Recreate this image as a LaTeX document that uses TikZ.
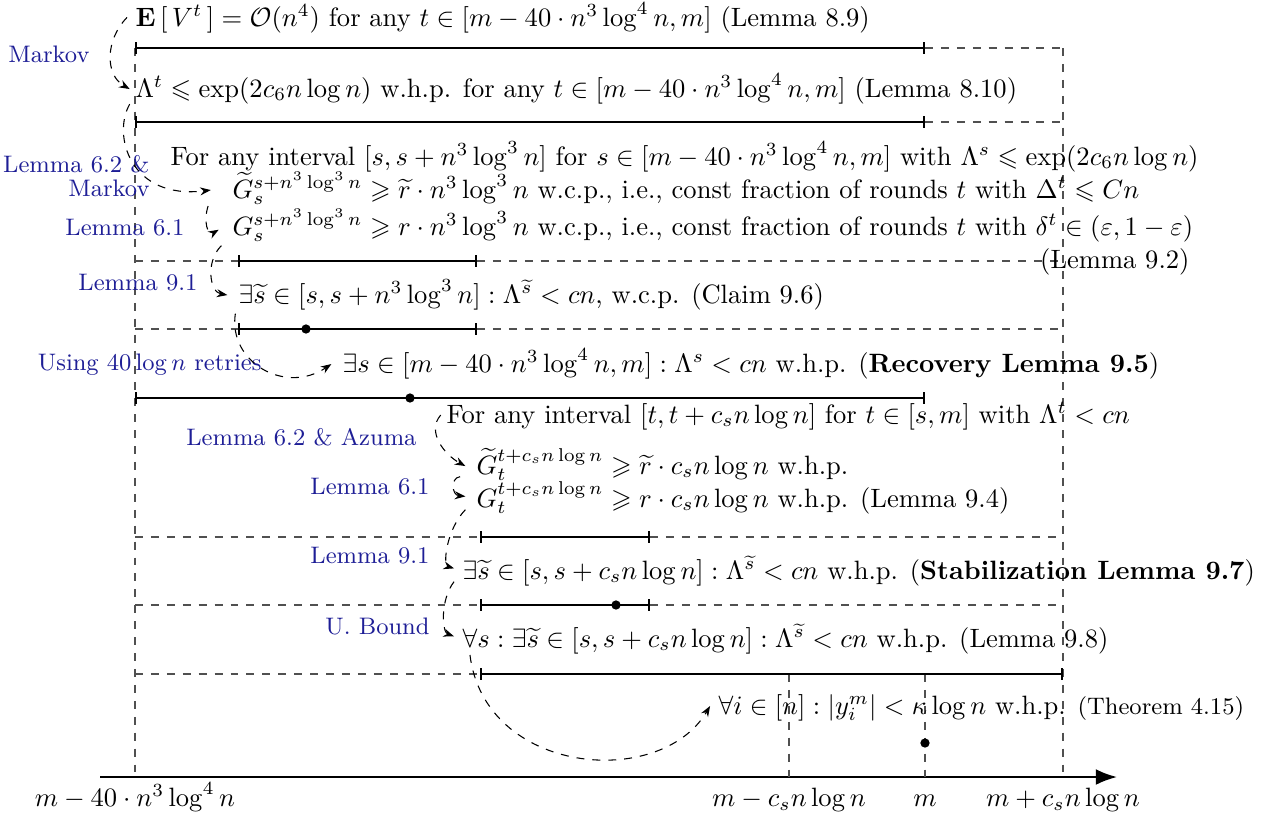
\documentclass[tikz,border=0pt]{standalone}
\usepackage{amsmath,amssymb}
\usepackage{xcolor}
\usepackage{tikz}
\usetikzlibrary{arrows.meta}
\definecolor{note}{RGB}{30,30,150}
\definecolor{guidegray}{RGB}{80,80,80}

\begin{document}
\begin{tikzpicture}[
  x=0.01325cm, y=-0.01325cm,
  fact/.style={anchor=base west, inner sep=0pt},
  why/.style={anchor=base east, inner sep=0pt, text=note, align=right, font=\small},
  ivl/.style={thick, {Bar[width=4.5pt]}-{Bar[width=4.5pt]}},
  guide/.style={dashed, guidegray},
  proof/.style={dashed, -{Stealth[length=4pt]}},
  hit/.style={circle, fill, inner sep=0pt, minimum size=3.5pt},
  axis/.style={thick, -{Latex[length=8pt]}}
]
\useasboundingbox (0,0) rectangle (1261,816);

% time axis and guides
\draw[axis] (100,777) -- (1117,777);
\draw[guide] (135,48) -- (135,777);
\draw[guide] (1063,48) -- (1063,777);
\draw[guide] (789,674) -- (789,777);
\draw[guide] (925,674) -- (925,777);
\draw[guide] (925,48) -- (1063,48);
\draw[guide] (925,122) -- (1063,122);
\draw[guide] (135,261) -- (238,261) (477,261) -- (1063,261);
\draw[guide] (135,329) -- (238,329) (477,329) -- (1063,329);
\draw[guide] (135,537) -- (480,537) (650,537) -- (1063,537);
\draw[guide] (135,605) -- (480,605) (650,605) -- (1063,605);
\draw[guide] (135,674) -- (480,674);

% intervals
\draw[ivl] (135,48) -- (925,48);
\draw[ivl] (135,122) -- (925,122);
\draw[ivl] (238,261) -- (477,261);
\draw[ivl] (238,329) -- (477,329);
\draw[ivl] (135,398) -- (925,398);
\draw[ivl] (480,537) -- (650,537);
\draw[ivl] (480,605) -- (650,605);
\draw[ivl] (480,674) -- (1063,674);
\node[hit] at (306,329) {};
\node[hit] at (410,398) {};
\node[hit] at (616,605) {};
\node[hit] at (925,743) {};

% statements
\node[fact] (e89) at (135,26) {$\mathbf{E}\left[\,V^t\,\right] = \mathcal{O}(n^4)$ for any $t \in [m - 40 \cdot n^3 \log^4 n, m]$ (Lemma 8.9)};
\node[fact] (lam810) at (135,97) {$\Lambda^t \leqslant \exp(2c_6 n \log n)$ w.h.p. for any $t \in [m - 40 \cdot n^3 \log^4 n, m]$ (Lemma 8.10)};
\node[fact] (forS) at (170,165) {For any interval $[s, s + n^3 \log^3 n]$ for $s \in [m - 40 \cdot n^3 \log^4 n, m]$ with $\Lambda^s \leqslant \exp(2c_6 n \log n)$};
\node[fact] (gtil) at (232,198) {$\widetilde{G}_s^{s+n^3 \log^3 n} \geqslant \widetilde{r} \cdot n^3 \log^3 n$ w.c.p., i.e., const fraction of rounds $t$ with $\Delta^t \leqslant Cn$};
\node[fact] (gnorm) at (232,235) {$G_s^{s+n^3 \log^3 n} \geqslant r \cdot n^3 \log^3 n$ w.c.p., i.e., const fraction of rounds $t$ with $\delta^t \in (\varepsilon, 1-\varepsilon)$};
\node[fact, anchor=base east] (l92) at (1190,268) {(Lemma 9.2)};
\node[fact] (claim96) at (238,303) {$\exists \widetilde{s} \in [s, s + n^3 \log^3 n] : \Lambda^{\widetilde{s}} < cn$, w.c.p. (Claim 9.6)};
\node[fact] (rec95) at (342,372) {$\exists s \in [m - 40 \cdot n^3 \log^4 n, m] : \Lambda^s < cn$ w.h.p. (\textbf{Recovery Lemma 9.5})};
\node[fact] (forT) at (446,423) {For any interval $[t, t + c_s n \log n]$ for $t \in [s, m]$ with $\Lambda^t < cn$};
\node[fact] (gtilT) at (476,474) {$\widetilde{G}_t^{t+c_s n \log n} \geqslant \widetilde{r} \cdot c_s n \log n$ w.h.p.};
\node[fact] (gnormT) at (476,507) {$G_t^{t+c_s n \log n} \geqslant r \cdot c_s n \log n$ w.h.p. (Lemma 9.4)};
\node[fact] (stab97) at (462,579) {$\exists \widetilde{s} \in [s, s + c_s n \log n] : \Lambda^{\widetilde{s}} < cn$ w.h.p. (\textbf{Stabilization Lemma 9.7})};
\node[fact] (l98) at (462,647) {$\forall s : \exists \widetilde{s} \in [s, s + c_s n \log n] : \Lambda^{\widetilde{s}} < cn$ w.h.p. (Lemma 9.8)};
\node[fact] (thm415) at (718,714) {$\forall i \in [n] : |y_i^m| < \kappa \log n$ w.h.p. {\small (Theorem 4.15)}};

% axis labels
\node[anchor=base] (tstart) at (135,806) {$m - 40 \cdot n^3 \log^4 n$};
\node[anchor=base] (tlow) at (789,806) {$m - c_s n \log n$};
\node[anchor=base] (tm) at (925,806) {$m$};
\node[anchor=base] (thigh) at (1063,806) {$m + c_s n \log n$};

% reasons
\node[why] (mk1) at (90,62) {Markov};
\node[why, anchor=east] (lem62mk) at (150,176) {Lemma 6.2 \&\\[-2pt]Markov};
\node[why] (lem61a) at (185,235) {Lemma 6.1};
\node[why] (lem91a) at (198,290) {Lemma 9.1};
\node[why] (retries) at (262,370) {Using $40 \log n$ retries};
\node[why] (lem62az) at (417,445) {Lemma 6.2 \& Azuma};
\node[why] (lem61b) at (430,494) {Lemma 6.1};
\node[why] (lem91b) at (430,563) {Lemma 9.1};
\node[why] (ubound) at (430,634) {U. Bound};

% implications
\draw[proof] ([xshift=-3pt]e89.west) .. controls (105,40) and (105,75) .. ([xshift=-2pt,yshift=3pt]lam810.base west);
\draw[proof] ([xshift=-2pt]lam810.south west) .. controls (112,135) and (130,200) .. ([xshift=-8pt,yshift=3pt]gtil.base west);
\draw[proof] ([xshift=-9pt,yshift=-3pt]gtil.base west) .. controls (203,222) and (208,236) .. ([xshift=-5pt,yshift=2pt]gnorm.base west);
\draw[proof] ([xshift=-4pt,yshift=-4pt]gnorm.base west) .. controls (205,262) and (210,292) .. ([xshift=-4pt,yshift=3pt]claim96.base west);
\draw[proof] ([xshift=-1pt,yshift=-4pt]claim96.base west) .. controls (228,362) and (285,395) .. ([xshift=-4pt,yshift=3pt]rec95.base west);
\draw[proof] ([xshift=-2pt,yshift=3pt]forT.base west) .. controls (426,432) and (445,455) .. ([xshift=-4pt,yshift=3pt]gtilT.base west);
\draw[proof] ([xshift=-6pt,yshift=-1pt]gtilT.base west) .. controls (450,478) and (452,495) .. ([xshift=-4pt,yshift=4pt]gnormT.base west);
\draw[proof] ([xshift=-4pt,yshift=-1pt]gnormT.base west) .. controls (446,530) and (443,565) .. ([xshift=-3pt,yshift=4pt]stab97.base west);
\draw[proof] ([xshift=-3pt,yshift=-1pt]stab97.base west) .. controls (440,600) and (442,632) .. ([xshift=-3pt,yshift=4pt]l98.base west);
\draw[proof] ([xshift=3pt,yshift=-3pt]l98.base west) .. controls (485,775) and (660,790) .. ([xshift=-3pt,yshift=3pt]thm415.base west);
\end{tikzpicture}
\end{document}
